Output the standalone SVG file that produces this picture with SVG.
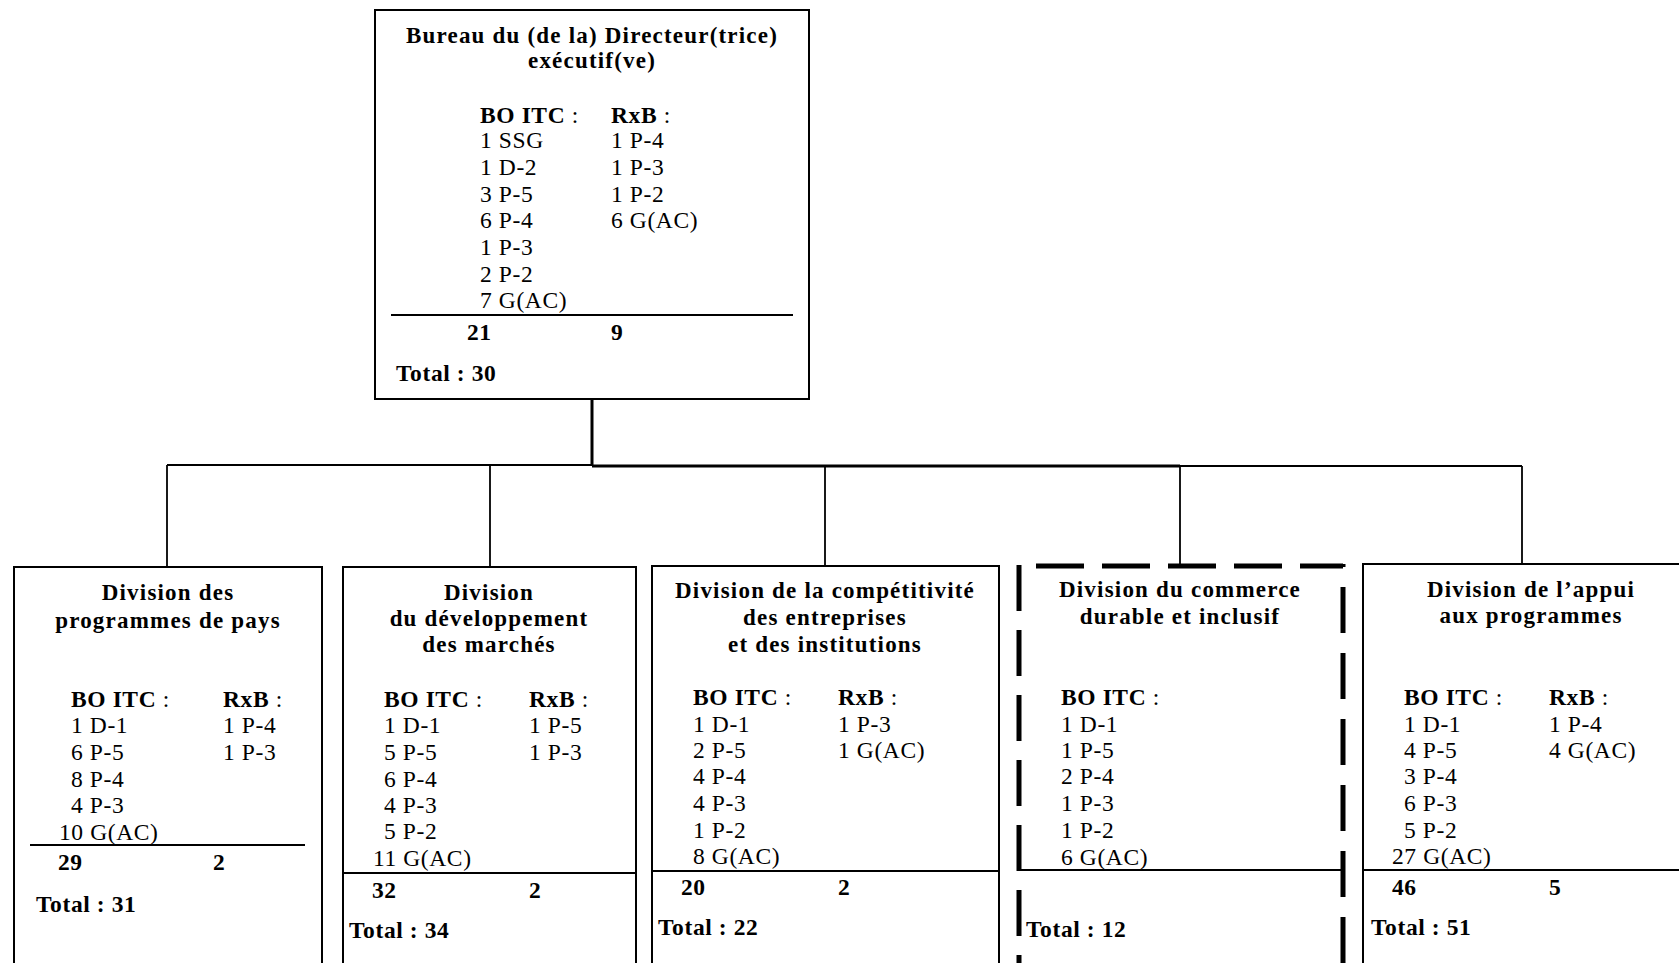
<svg xmlns="http://www.w3.org/2000/svg" width="1679" height="963" viewBox="0 0 1679 963">
<style>
text{font-family:"Liberation Serif","Times New Roman",serif;fill:#000}
.t{font-weight:bold;font-size:23px;letter-spacing:1.2px;text-anchor:middle}
.b{font-size:23.5px;letter-spacing:0.6px}
.h{font-weight:bold}
.box{fill:#fff;stroke:#000;stroke-width:2}
.rule{stroke:#000;stroke-width:2}
.c{stroke:#000;stroke-width:1.8;fill:none}
.ck{stroke:#000;stroke-width:3;fill:none}
.d{stroke:#000;stroke-width:5;fill:none}
</style>
<rect width="1679" height="963" fill="#fff"/>
<g id="connectors">
<line class="ck" x1="592" y1="399" x2="592" y2="466"/>
<line class="c" x1="167" y1="465" x2="592" y2="465"/>
<line class="ck" x1="592" y1="466" x2="1180" y2="466"/>
<line class="c" x1="1180" y1="466" x2="1522" y2="466"/>
<line class="c" x1="167" y1="465" x2="167" y2="567"/>
<line class="c" x1="490" y1="465" x2="490" y2="567"/>
<line class="c" x1="825" y1="466" x2="825" y2="566"/>
<line class="c" x1="1180" y1="466" x2="1180" y2="564"/>
<line class="c" x1="1522" y1="466" x2="1522" y2="564"/>
</g>
<g id="node-bureau">
<rect class="box" x="375" y="10" width="434" height="389"/>
<text class="t" x="592" y="43">Bureau du (de la) Directeur(trice)</text>
<text class="t" x="592" y="68">exécutif(ve)</text>
<g class="b">
<text x="480" y="123"><tspan class="h">BO ITC</tspan> :</text>
<text x="480" y="148">1 SSG</text>
<text x="480" y="175">1 D-2</text>
<text x="480" y="202">3 P-5</text>
<text x="480" y="228">6 P-4</text>
<text x="480" y="255">1 P-3</text>
<text x="480" y="282">2 P-2</text>
<text x="480" y="308">7 G(AC)</text>
<text x="611" y="123"><tspan class="h">RxB</tspan> :</text>
<text x="611" y="148">1 P-4</text>
<text x="611" y="175">1 P-3</text>
<text x="611" y="202">1 P-2</text>
<text x="611" y="228">6 G(AC)</text>
<text class="h" x="467" y="340">21</text>
<text class="h" x="611" y="340">9</text>
<text class="h" x="396" y="381">Total : 30</text>
</g>
<line class="rule" x1="391" y1="315" x2="793" y2="315"/>
</g>
<g id="node-programmes-pays">
<rect class="box" x="14" y="567" width="308" height="410"/>
<text class="t" x="168" y="600">Division des</text>
<text class="t" x="168" y="628">programmes de pays</text>
<g class="b">
<text x="71" y="707"><tspan class="h">BO ITC</tspan> :</text>
<text x="71" y="733">1 D-1</text>
<text x="71" y="760">6 P-5</text>
<text x="71" y="787">8 P-4</text>
<text x="71" y="813">4 P-3</text>
<text x="59" y="840">10 G(AC)</text>
<text x="223" y="707"><tspan class="h">RxB</tspan> :</text>
<text x="223" y="733">1 P-4</text>
<text x="223" y="760">1 P-3</text>
<text class="h" x="58" y="870">29</text>
<text class="h" x="213" y="870">2</text>
<text class="h" x="36" y="912">Total : 31</text>
</g>
<line class="rule" x1="30" y1="845" x2="305" y2="845"/>
</g>
<g id="node-developpement-marches">
<rect class="box" x="343" y="567" width="293" height="410"/>
<text class="t" x="489" y="600">Division</text>
<text class="t" x="489" y="626">du développement</text>
<text class="t" x="489" y="652">des marchés</text>
<g class="b">
<text x="384" y="707"><tspan class="h">BO ITC</tspan> :</text>
<text x="384" y="733">1 D-1</text>
<text x="384" y="760">5 P-5</text>
<text x="384" y="787">6 P-4</text>
<text x="384" y="813">4 P-3</text>
<text x="384" y="839">5 P-2</text>
<text x="373" y="866">11 G(AC)</text>
<text x="529" y="707"><tspan class="h">RxB</tspan> :</text>
<text x="529" y="733">1 P-5</text>
<text x="529" y="760">1 P-3</text>
<text class="h" x="372" y="898">32</text>
<text class="h" x="529" y="898">2</text>
<text class="h" x="349" y="938">Total : 34</text>
</g>
<line class="rule" x1="343" y1="873" x2="636" y2="873"/>
</g>
<g id="node-competitivite">
<rect class="box" x="652" y="566" width="347" height="410"/>
<text class="t" x="825" y="598">Division de la compétitivité</text>
<text class="t" x="825" y="625">des entreprises</text>
<text class="t" x="825" y="652">et des institutions</text>
<g class="b">
<text x="693" y="705"><tspan class="h">BO ITC</tspan> :</text>
<text x="693" y="732">1 D-1</text>
<text x="693" y="758">2 P-5</text>
<text x="693" y="784">4 P-4</text>
<text x="693" y="811">4 P-3</text>
<text x="693" y="838">1 P-2</text>
<text x="693" y="864">8 G(AC)</text>
<text x="838" y="705"><tspan class="h">RxB</tspan> :</text>
<text x="838" y="732">1 P-3</text>
<text x="838" y="758">1 G(AC)</text>
<text class="h" x="681" y="895">20</text>
<text class="h" x="838" y="895">2</text>
<text class="h" x="658" y="935">Total : 22</text>
</g>
<line class="rule" x1="652" y1="871" x2="999" y2="871"/>
</g>
<g id="node-commerce-durable">
<rect x="1017" y="564" width="326" height="410" fill="#fff"/>
<line class="d" x1="1036" y1="566" x2="1343" y2="566" stroke-dasharray="48 18"/>
<line class="d" x1="1019" y1="565" x2="1019" y2="970" stroke-dasharray="46 19"/>
<line class="d" x1="1343" y1="564" x2="1343" y2="970" stroke-dasharray="46 20" stroke-dashoffset="43"/>
<text class="t" x="1180" y="597">Division du commerce</text>
<text class="t" x="1180" y="624">durable et inclusif</text>
<g class="b">
<text x="1061" y="705"><tspan class="h">BO ITC</tspan> :</text>
<text x="1061" y="732">1 D-1</text>
<text x="1061" y="758">1 P-5</text>
<text x="1061" y="784">2 P-4</text>
<text x="1061" y="811">1 P-3</text>
<text x="1061" y="838">1 P-2</text>
<text x="1061" y="865">6 G(AC)</text>
<text class="h" x="1026" y="937">Total : 12</text>
</g>
<line class="rule" x1="1020" y1="870" x2="1342" y2="870"/>
</g>
<g id="node-appui-programmes">
<rect class="box" x="1363" y="564" width="330" height="410"/>
<text class="t" x="1531" y="597">Division de l’appui</text>
<text class="t" x="1531" y="623">aux programmes</text>
<g class="b">
<text x="1404" y="705"><tspan class="h">BO ITC</tspan> :</text>
<text x="1404" y="732">1 D-1</text>
<text x="1404" y="758">4 P-5</text>
<text x="1404" y="784">3 P-4</text>
<text x="1404" y="811">6 P-3</text>
<text x="1404" y="838">5 P-2</text>
<text x="1392" y="864">27 G(AC)</text>
<text x="1549" y="705"><tspan class="h">RxB</tspan> :</text>
<text x="1549" y="732">1 P-4</text>
<text x="1549" y="758">4 G(AC)</text>
<text class="h" x="1392" y="895">46</text>
<text class="h" x="1549" y="895">5</text>
<text class="h" x="1371" y="935">Total : 51</text>
</g>
<line class="rule" x1="1363" y1="870" x2="1679" y2="870"/>
</g>
</svg>
